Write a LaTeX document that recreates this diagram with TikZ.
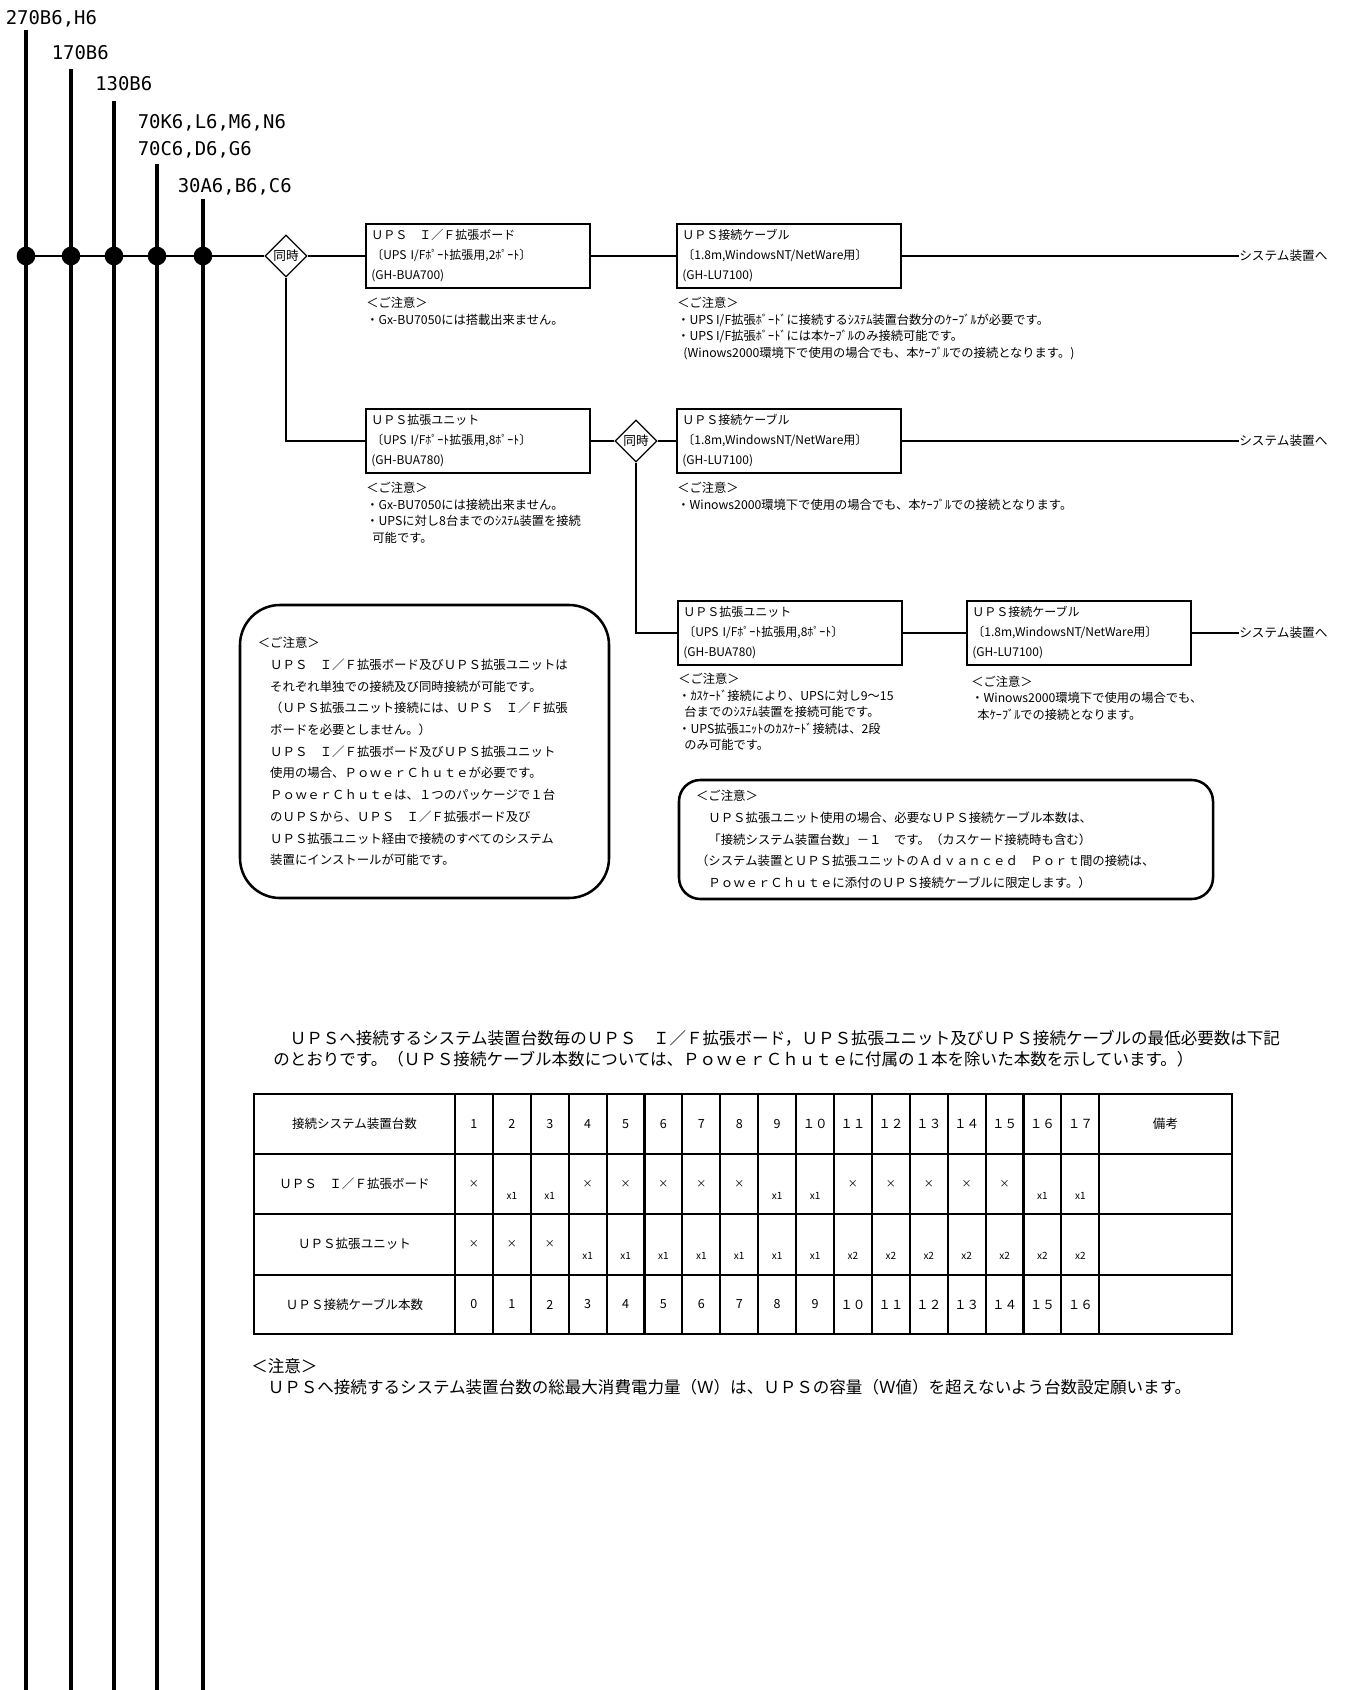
\documentclass[tikz,border=0pt]{standalone}
\usepackage{fontspec}
\setmainfont{Noto Sans CJK JP}
\newfontfamily\busfont{DejaVu Sans Mono}
\usepackage{tikz}
\usetikzlibrary{positioning,shapes.geometric}

\begin{document}
\begin{tikzpicture}[x=0.75pt,y=-0.75pt,
  bus/.style={line width=3pt},
  wire/.style={line width=1pt},
  busdot/.style={circle,fill=black,inner sep=0pt,minimum size=14pt},
  buslabel/.style={anchor=base west,inner sep=0pt,font=\busfont\fontsize{14.2pt}{16pt}\selectfont},
  sync/.style={draw,diamond,aspect=1,inner sep=0pt,minimum width=31.5pt,minimum height=31.5pt,line width=1pt,font=\fontsize{9.5pt}{10pt}\selectfont},
  partbox/.style={draw,line width=1.9pt,minimum width=168pt,minimum height=48pt,text width=160pt,align=left,inner sep=3pt,font=\fontsize{9pt}{15pt}\selectfont},
  notetext/.style={anchor=north west,inner sep=0pt,align=left,font=\fontsize{9.2pt}{12.4pt}\selectfont},
  dest/.style={anchor=west,inner sep=0pt,font=\fontsize{9.5pt}{11pt}\selectfont},
  cautionbox/.style={draw,line width=1.9pt,align=left,inner sep=0pt,font=\fontsize{9.3pt}{16.3pt}\selectfont},
  tablerule/.style={line width=1.6pt},
  tcell/.style={inner sep=0pt,font=\fontsize{9.4pt}{10pt}\selectfont},
  tmark/.style={inner sep=0pt,font=\fontsize{7.5pt}{9pt}\selectfont},
  bodytext/.style={anchor=west,inner sep=0pt,align=left,font=\fontsize{12.4pt}{16pt}\selectfont}]
\useasboundingbox (0,0) rectangle (1346,1690);

% power buses
\foreach \bx/\btop [count=\i] in {26/30,71/69,114/101,157/164,203/199}{
  \coordinate (top\i) at (\bx,\btop);
  \coordinate (end\i) at (\bx,1690);
  \draw[bus] (top\i) -- (end\i);
  \node[busdot] (dot\i) at (\bx,256) {};
}
\node[buslabel] (lbl270) at (5.5,25) {270B6,H6};
\node[buslabel] (lbl170) at (51.5,60) {170B6};
\node[buslabel] (lbl130) at (95,90.5) {130B6};
\node[buslabel] (lbl70a) at (137.5,129) {70K6,L6,M6,N6};
\node[buslabel] (lbl70b) at (137.5,156) {70C6,D6,G6};
\node[buslabel] (lbl30) at (177.5,192.5) {30A6,B6,C6};

% parts
\node[sync] (sync1) at (286,256) {同時};
\node[partbox] (ifboard) at (478,256) {ＵＰＳ　Ｉ／Ｆ拡張ボード\\〔UPS I/Fﾎﾟｰﾄ拡張用,2ﾎﾟｰﾄ〕\\(GH-BUA700)};
\node[partbox] (cable1) at (789,256) {ＵＰＳ接続ケーブル\\〔1.8m,WindowsNT/NetWare用〕\\(GH-LU7100)};
\node[dest] (sysA) at (1239,256) {システム装置へ};
\node[partbox] (unit1) at (478,441) {ＵＰＳ拡張ユニット\\〔UPS I/Fﾎﾟｰﾄ拡張用,8ﾎﾟｰﾄ〕\\(GH-BUA780)};
\node[sync] (sync2) at (636,441) {同時};
\node[partbox] (cable2) at (789,441) {ＵＰＳ接続ケーブル\\〔1.8m,WindowsNT/NetWare用〕\\(GH-LU7100)};
\node[dest] (sysB) at (1239,441) {システム装置へ};
\node[partbox] (unit2) at (790,633) {ＵＰＳ拡張ユニット\\〔UPS I/Fﾎﾟｰﾄ拡張用,8ﾎﾟｰﾄ〕\\(GH-BUA780)};
\node[partbox] (cable3) at (1079,633) {ＵＰＳ接続ケーブル\\〔1.8m,WindowsNT/NetWare用〕\\(GH-LU7100)};
\node[dest] (sysC) at (1239,633) {システム装置へ};

% notes under the parts
\node[notetext] (ifboardnote) at ([xshift=1pt,yshift=-6pt]ifboard.south west) {＜ご注意＞\\・Gx-BU7050には搭載出来ません。};
\node[notetext] (cable1note) at ([xshift=1pt,yshift=-6pt]cable1.south west) {＜ご注意＞\\・UPS I/F拡張ﾎﾞｰﾄﾞに接続するｼｽﾃﾑ装置台数分のｹｰﾌﾞﾙが必要です。\\・UPS I/F拡張ﾎﾞｰﾄﾞには本ｹｰﾌﾞﾙのみ接続可能です。\\\hspace*{0.5em}(Winows2000環境下で使用の場合でも、本ｹｰﾌﾞﾙでの接続となります。)};
\node[notetext] (unit1note) at ([xshift=1pt,yshift=-6pt]unit1.south west) {＜ご注意＞\\・Gx-BU7050には接続出来ません。\\・UPSに対し8台までのｼｽﾃﾑ装置を接続\\\hspace*{0.5em}可能です。};
\node[notetext] (cable2note) at ([xshift=1pt,yshift=-6pt]cable2.south west) {＜ご注意＞\\・Winows2000環境下で使用の場合でも、本ｹｰﾌﾞﾙでの接続となります。};
\node[notetext] (unit2note) at ([xshift=1pt,yshift=-5pt]unit2.south west) {＜ご注意＞\\・ｶｽｹｰﾄﾞ接続により、UPSに対し9～15\\\hspace*{0.5em}台までのｼｽﾃﾑ装置を接続可能です。\\・UPS拡張ﾕﾆｯﾄのｶｽｹｰﾄﾞ接続は、2段\\\hspace*{0.5em}のみ可能です。};
\node[notetext] (cable3note) at ([xshift=4pt,yshift=-7pt]cable3.south west) {＜ご注意＞\\・Winows2000環境下で使用の場合でも、\\\hspace*{0.5em}本ｹｰﾌﾞﾙでの接続となります。};

% wiring
\draw[wire] (dot1.center) -- (sync1);
\draw[wire] (sync1) -- (ifboard);
\draw[wire] (ifboard) -- (cable1);
\draw[wire] (cable1) -- (sysA);
\draw[wire] (sync1.south) |- (unit1.west);
\draw[wire] (unit1) -- (sync2);
\draw[wire] (sync2) -- (cable2);
\draw[wire] (cable2) -- (sysB);
\draw[wire] (sync2.south) |- (unit2.west);
\draw[wire] (unit2) -- (cable3);
\draw[wire] (cable3) -- (sysC);

% cautions
\node[cautionbox,rounded corners=30pt,minimum width=276.75pt,minimum height=219.75pt,text width=250pt] (cautionL) at (424.5,751.5) {＜ご注意＞\\　ＵＰＳ　Ｉ／Ｆ拡張ボード及びＵＰＳ拡張ユニットは\\　それぞれ単独での接続及び同時接続が可能です。\\　（ＵＰＳ拡張ユニット接続には、ＵＰＳ　Ｉ／Ｆ拡張\\　ボードを必要としません。）\\　ＵＰＳ　Ｉ／Ｆ拡張ボード及びＵＰＳ拡張ユニット\\　使用の場合、ＰｏｗｅｒＣｈｕｔｅが必要です。\\　ＰｏｗｅｒＣｈｕｔｅは、１つのパッケージで１台\\　のＵＰＳから、ＵＰＳ　Ｉ／Ｆ拡張ボード及び\\　ＵＰＳ拡張ユニット経由で接続のすべてのシステム\\　装置にインストールが可能です。};
\node[cautionbox,rounded corners=16pt,minimum width=400.5pt,minimum height=89.25pt,text width=375pt] (cautionR) at (946,839.5) {＜ご注意＞\\　ＵＰＳ拡張ユニット使用の場合、必要なＵＰＳ接続ケーブル本数は、\\　「接続システム装置台数」－１　です。（カスケード接続時も含む）\\（システム装置とＵＰＳ拡張ユニットのＡｄｖａｎｃｅｄ　Ｐｏｒｔ間の接続は、\\　ＰｏｗｅｒＣｈｕｔｅに添付のＵＰＳ接続ケーブルに限定します。）};

\node[bodytext] (summary) at (273,1048.5) {　ＵＰＳへ接続するシステム装置台数毎のＵＰＳ　Ｉ／Ｆ拡張ボード，ＵＰＳ拡張ユニット及びＵＰＳ接続ケーブルの最低必要数は下記\\のとおりです。（ＵＰＳ接続ケーブル本数については、ＰｏｗｅｒＣｈｕｔｅに付属の１本を除いた本数を示しています。）};

% table
\draw[tablerule] (254,1094) rectangle (1232,1334);
\foreach \ry in {1154,1214,1275} \draw[tablerule] (254,\ry) -- (1232,\ry);
\foreach \k in {0,...,17} \draw[tablerule] ({455+\k*37.9},1094) -- ({455+\k*37.9},1334);
\node[tcell] (hdr) at (354.5,1124) {接続システム装置台数};
\node[tcell] (ifbrow) at (354.5,1184) {ＵＰＳ　Ｉ／Ｆ拡張ボード};
\node[tcell] (unitrow) at (354.5,1244) {ＵＰＳ拡張ユニット};
\node[tcell] (cablerow) at (354.5,1304.5) {ＵＰＳ接続ケーブル本数};
\node[tcell] (remark) at (1165.5,1124) {備考};
\foreach \n [count=\c] in {1,2,3,4,5,6,7,8,9,１０,１１,１２,１３,１４,１５,１６,１７}
  \node[tcell] (num-\c) at ({455+(\c-0.5)*37.9},1124) {\n};
\foreach \n [count=\c] in {0,1,2,3,4,5,6,7,8,9,１０,１１,１２,１３,１４,１５,１６}
  \node[tcell] (cab-\c) at ({455+(\c-0.5)*37.9},1304.5) {\n};
\foreach \c in {1,4,5,6,7,8,11,12,13,14,15}
  \node[tmark] (ifb-\c) at ({455+(\c-0.5)*37.9},1184) {×};
\foreach \c in {2,3,9,10,16,17}
  \node[tmark] (ifb-\c) at ({455+(\c-0.5)*37.9},1196) {x1};
\foreach \c in {1,2,3}
  \node[tmark] (unt-\c) at ({455+(\c-0.5)*37.9},1244) {×};
\foreach \c in {4,...,10}
  \node[tmark] (unt-\c) at ({455+(\c-0.5)*37.9},1256) {x1};
\foreach \c in {11,...,17}
  \node[tmark] (unt-\c) at ({455+(\c-0.5)*37.9},1256) {x2};

\node[bodytext] (warn) at (251,1377) {＜注意＞\\　ＵＰＳへ接続するシステム装置台数の総最大消費電力量（Ｗ）は、ＵＰＳの容量（Ｗ値）を超えないよう台数設定願います。};
\end{tikzpicture}
\end{document}
